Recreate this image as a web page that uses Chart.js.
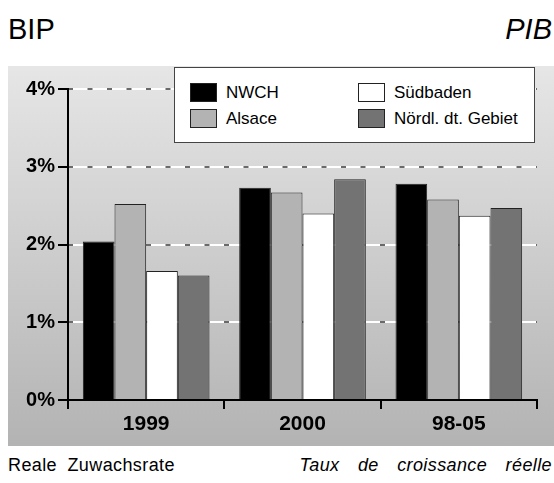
<!DOCTYPE html>
<html>
<head>
<meta charset="utf-8">
<script src="https://cdn.jsdelivr.net/npm/chart.js@4.4.1/dist/chart.umd.min.js"></script>
<style>
  body {
    margin: 0;
    width: 554px;
    height: 483px;
    background: #fff;
    position: relative;
    overflow: hidden;
    font-family: "Liberation Sans", Arial, sans-serif;
    color: #000;
  }
  .title {
    position: absolute;
    top: 15px;
    font-size: 29px;
    line-height: 29px;
  }
  #titleDe { left: 8px; }
  #titleFr { right: 2px; font-style: italic; }
  #panel {
    position: absolute;
    left: 8px;
    top: 66px;
    width: 546px;
    height: 380px;
    background: linear-gradient(#e6e6e6, #b3b3b3);
  }
  #chartBox {
    position: absolute;
    left: 0;
    top: 0;
    width: 546px;
    height: 380px;
  }
  #legend {
    position: absolute;
    left: 166px;
    top: 1px;
    width: 359px;
    height: 74px;
    background: #fff;
    border: 1px solid #444;
  }
  .legend-item {
    position: absolute;
    height: 19px;
    font-size: 17px;
    line-height: 19px;
    white-space: nowrap;
  }
  .legend-item .swatch {
    position: absolute;
    left: 0;
    top: 0;
    width: 25px;
    height: 17px;
    border: 1px solid #222;
  }
  .legend-item span {
    position: absolute;
    left: 36px;
    top: 0;
  }
  .footer {
    position: absolute;
    top: 455px;
    font-size: 18px;
    line-height: 20px;
    letter-spacing: 0.4px;
    white-space: nowrap;
  }
  #footDe { left: 8px; word-spacing: 5px; }
  #footFr { right: 2px; font-style: italic; word-spacing: 13px; }
</style>
</head>
<body>
<div class="title" id="titleDe">BIP</div>
<div class="title" id="titleFr">PIB</div>
<div id="panel">
  <div id="chartBox"><canvas id="bipChart"></canvas></div>
  <div id="legend"></div>
</div>
<div class="footer" id="footDe">Reale Zuwachsrate</div>
<div class="footer" id="footFr">Taux de croissance réelle</div>
<script>
  const categories = ["1999", "2000", "98-05"];
  const seriesNames = ["NWCH", "Alsace", "Südbaden", "Nördl. dt. Gebiet"];
  const seriesColors = ["#000000", "#b3b3b3", "#ffffff", "#737373"];
  const nwchValues = [2.04, 2.73, 2.78];
  const alsaceValues = [2.52, 2.67, 2.58];
  const suedbadenValues = [1.66, 2.40, 2.37];
  const noerdlValues = [1.60, 2.84, 2.47];
  const yMin = 0;
  const yMax = 4;
  const yStep = 1;

  const seriesValues = [nwchValues, alsaceValues, suedbadenValues, noerdlValues];

  const dataBip = {
    labels: categories,
    datasets: seriesNames.map(function (name, i) {
      return {
        label: name,
        data: seriesValues[i],
        backgroundColor: seriesColors[i],
        borderColor: "#222222",
        borderWidth: 1,
        categoryPercentage: 0.81,
        barPercentage: 1,
      };
    }),
  };

  // hide the gridline at 0 so it doesn't paint over the x axis
  const gridColor = function (color) {
    return function (ctx) {
      return ctx.tick && ctx.tick.value === 0 ? "rgba(0,0,0,0)" : color;
    };
  };

  const configBip = {
    type: "bar",
    data: dataBip,
    options: {
      responsive: true,
      maintainAspectRatio: false,
      animation: false,
      devicePixelRatio: 1,
      layout: {
        padding: { top: 23, right: 17, left: 0, bottom: 0 },
      },
      scales: {
        x: {
          grid: {
            offset: true,
            drawOnChartArea: false,
            color: "#000",
            lineWidth: 2,
            tickLength: 9,
          },
          border: { color: "#000", width: 2 },
          ticks: {
            color: "#000",
            padding: 3,
            font: { family: "'Liberation Sans', Arial", size: 21, weight: "bold" },
          },
          afterFit: function (scale) {
            scale.height = 46;
          },
        },
        y: {
          min: yMin,
          max: yMax,
          ticks: {
            stepSize: yStep,
            color: "#000",
            padding: 3,
            font: { family: "'Liberation Sans', Arial", size: 20, weight: "bold" },
            callback: function (v) {
              return v + "%";
            },
          },
          grid: {
            color: gridColor("#ffffff"),
            tickColor: "#000",
            lineWidth: 2,
            tickLength: 10,
          },
          border: { color: "#000", width: 2 },
          afterFit: function (scale) {
            scale.width = 60;
          },
        },
        // second layer: the small grey dashes sitting on the white gridlines
        yDash: {
          position: "left",
          min: yMin,
          max: yMax,
          ticks: { display: false, stepSize: yStep },
          grid: {
            color: gridColor("#6a6a6a"),
            lineWidth: 2,
            drawTicks: false,
          },
          border: { display: false, dash: [5, 14.5], dashOffset: 0 },
          afterFit: function (scale) {
            scale.width = 0;
          },
        },
      },
      plugins: {
        legend: { display: false },
        tooltip: { enabled: false },
      },
    },
  };

  const bipChart = new Chart(document.getElementById("bipChart"), configBip);

  // boxed legend, two columns
  const legendBox = document.getElementById("legend");
  bipChart.data.datasets.forEach(function (ds, i) {
    const item = document.createElement("div");
    item.className = "legend-item";
    item.style.left = (15 + Math.floor(i / 2) * 168) + "px";
    item.style.top = (15 + (i % 2) * 26) + "px";
    const sw = document.createElement("div");
    sw.className = "swatch";
    sw.style.background = ds.backgroundColor;
    const txt = document.createElement("span");
    txt.textContent = ds.label;
    item.appendChild(sw);
    item.appendChild(txt);
    legendBox.appendChild(item);
  });
</script>
</body>
</html>
